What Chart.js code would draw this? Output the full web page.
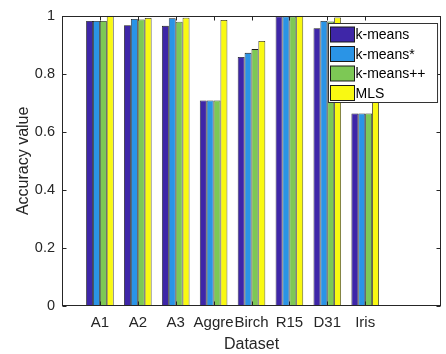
<!DOCTYPE html>
<html>
<head>
<meta charset="utf-8">
<script src="https://cdn.jsdelivr.net/npm/chart.js@4.4.1/dist/chart.umd.min.js"></script>
<style>
  html, body { margin: 0; padding: 0; background: #fff; }
  #wrap { width: 446px; height: 354px; }
</style>
</head>
<body>
<div id="wrap"><canvas id="accChart" width="446" height="354"></canvas></div>
<script>
// datasets on the x axis
const datasetNames = ["A1", "A2", "A3", "Aggre", "Birch", "R15", "D31", "Iris"];

// accuracy per method
const kmeans     = [0.982, 0.967, 0.965, 0.708, 0.858, 0.997, 0.957, 0.663];
const kmeansStar = [0.982, 0.989, 0.991, 0.708, 0.872, 0.997, 0.982, 0.663];
const kmeansPP   = [0.982, 0.987, 0.979, 0.708, 0.885, 0.997, 0.980, 0.663];
const mls        = [1.000, 0.992, 0.993, 0.985, 0.913, 1.000, 0.994, 0.900];

const yTicks = [0, 0.2, 0.4, 0.6, 0.8, 1];

const methodNames = ["k-means", "k-means*", "k-means++", "MLS"];
const methodColors = ["#3e26a8", "#2a94e6", "#7dc855", "#f9f912"];

const toPoints = (vals) => vals.map((v, i) => ({ x: i + 1, y: v }));

const font = "'Liberation Sans', Arial, Helvetica, sans-serif";

// box around the axes + inward ticks on all four sides (matlab look)
const boxTicks = {
    id: "boxTicks",
    afterDraw(chart) {
        const { ctx, chartArea: a, scales } = chart;
        const L = Math.round(a.left) + 0.5, R = Math.round(a.right) - 0.5;
        const T = Math.round(a.top) + 0.5, B = Math.round(a.bottom) - 0.5;
        ctx.save();
        ctx.strokeStyle = "#262626";
        ctx.lineWidth = 1;
        ctx.strokeRect(L, T, R - L, B - T);
        const len = 4;
        ctx.beginPath();
        scales.x.ticks.forEach((t) => {
            const px = Math.round(scales.x.getPixelForValue(t.value)) + 0.5;
            ctx.moveTo(px, B); ctx.lineTo(px, B - len);
            ctx.moveTo(px, T); ctx.lineTo(px, T + len);
        });
        scales.y.ticks.forEach((t) => {
            const py = Math.round(scales.y.getPixelForValue(t.value)) + 0.5;
            ctx.moveTo(L, py); ctx.lineTo(L + len, py);
            ctx.moveTo(R, py); ctx.lineTo(R - len, py);
        });
        ctx.stroke();

        // legend inside the top right corner
        ctx.font = "14px " + font;
        const sw = 24, sh = 15, rowH = 19.5, pad = 2;
        const textW = Math.max(...methodNames.map((n) => ctx.measureText(n).width));
        const w = pad + sw + 2 + textW + 11;
        const h = rowH * methodNames.length + 1;
        const x0 = Math.round(a.right - 4 - w) + 0.5;
        const y0 = Math.round(a.top + 7) + 0.5;
        ctx.fillStyle = "#fff";
        ctx.fillRect(x0, y0, w, h);
        ctx.strokeStyle = "#333";
        ctx.strokeRect(x0, y0, w, h);
        methodNames.forEach((name, i) => {
            const cy = y0 + 11 + i * rowH;
            ctx.fillStyle = methodColors[i];
            ctx.fillRect(x0 + pad, cy - sh / 2, sw, sh);
            ctx.strokeStyle = "#1a1a1a";
            ctx.strokeRect(x0 + pad, cy - sh / 2, sw, sh);
            ctx.fillStyle = "#000";
            ctx.textBaseline = "middle";
            ctx.fillText(name, x0 + pad + sw + 1, cy + 1);
        });
        ctx.restore();
    }
};

new Chart(document.getElementById("accChart"), {
    type: "bar",
    data: {
        datasets: [
            { label: methodNames[0], data: toPoints(kmeans), backgroundColor: methodColors[0] },
            { label: methodNames[1], data: toPoints(kmeansStar), backgroundColor: methodColors[1] },
            { label: methodNames[2], data: toPoints(kmeansPP), backgroundColor: methodColors[2] },
            { label: methodNames[3], data: toPoints(mls), backgroundColor: methodColors[3] }
        ]
    },
    options: {
        responsive: false,
        animation: false,
        layout: { padding: { top: 13, right: 5, left: 0, bottom: 0 } },
        datasets: {
            bar: {
                categoryPercentage: 0.727,
                barPercentage: 1.0,
                borderColor: "#1a1a1a",
                borderWidth: 0.8
            }
        },
        plugins: {
            legend: { display: false },
            tooltip: { enabled: false }
        },
        scales: {
            x: {
                type: "linear",
                min: 0,
                max: 10,
                offset: false,
                grid: { display: false, drawTicks: false, offset: false },
                border: { display: false },
                afterBuildTicks: (scale) => {
                    scale.ticks = datasetNames.map((n, i) => ({ value: i + 1 }));
                },
                afterFit: (scale) => { scale.height = 48; },
                ticks: {
                    autoSkip: false,
                    maxRotation: 0,
                    padding: 8,
                    color: "#262626",
                    font: { family: font, size: 15 },
                    callback: (v) => datasetNames[v - 1] || ""
                },
                title: {
                    display: true,
                    text: "Dataset",
                    color: "#262626",
                    font: { family: font, size: 16 },
                    padding: { top: 0, bottom: 0 }
                }
            },
            y: {
                min: 0,
                max: 1,
                grid: { display: false, drawTicks: false },
                border: { display: false },
                afterBuildTicks: (scale) => {
                    scale.ticks = yTicks.map((v) => ({ value: v }));
                },
                afterFit: (scale) => { scale.width = 62; },
                ticks: {
                    padding: 7,
                    color: "#262626",
                    font: { family: font, size: 14.5 },
                    callback: (v) => String(v)
                },
                title: {
                    display: true,
                    text: "Accuracy value",
                    color: "#262626",
                    font: { family: font, size: 16 },
                    padding: { top: 14, bottom: 0 }
                }
            }
        }
    },
    plugins: [boxTicks]
});
</script>
</body>
</html>
